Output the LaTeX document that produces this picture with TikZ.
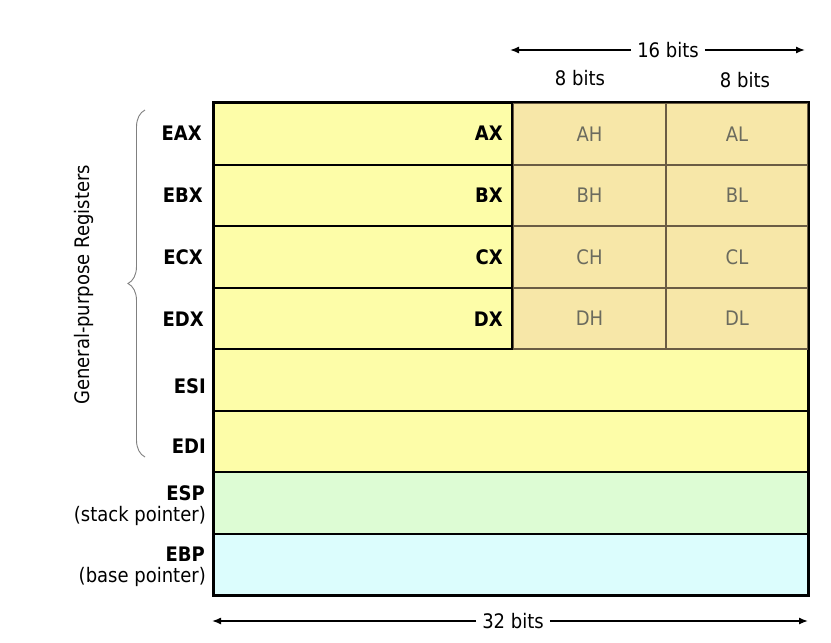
\documentclass[tikz,border=0pt]{standalone}
\usepackage{fontspec}
\setmainfont[FakeStretch=0.9]{DejaVu Sans}
\usetikzlibrary{decorations.pathreplacing,arrows.meta}
\definecolor{regyellow}{HTML}{FDFDA8}
\definecolor{regtan}{HTML}{F7E7A8}
\definecolor{reggreen}{HTML}{DDFCD4}
\definecolor{regcyan}{HTML}{DCFDFD}
\definecolor{tanline}{HTML}{6A5C44}
\definecolor{halftext}{HTML}{6B6B5E}
\begin{document}
\begin{tikzpicture}[x=1pt,y=-1pt,
  every node/.style={font=\fontsize{20}{23}\selectfont, inner sep=0pt},
  regrow/.style={draw=black, line width=2pt, anchor=north west, minimum width=594pt, minimum height=61.5pt},
  halfcell/.style={draw=tanline, line width=2pt, fill=regtan, anchor=north west, minimum height=61.5pt, text=halftext},
  reglabel/.style={anchor=east, font=\fontsize{20}{23}\selectfont\bfseries},
  sublabel/.style={anchor=east},
  dimarrow/.style={line width=1.4pt, -{Latex[length=9pt,width=7pt]}},
  note/.style={fill=white, inner sep=6pt}
]
\useasboundingbox (0,0) rectangle (831,643);
\fill[white] (0,0) rectangle (831,643);
% rows
\node[regrow, fill=regyellow] (rax) at (213,102) {};
\node[regrow, fill=regyellow] (rbx) at (213,163.5) {};
\node[regrow, fill=regyellow] (rcx) at (213,225) {};
\node[regrow, fill=regyellow] (rdx) at (213,286.5) {};
\node[regrow, fill=regyellow] (rsi) at (213,348) {};
\node[regrow, fill=regyellow] (rdi) at (213,409.5) {};
\node[regrow, fill=reggreen] (rsp) at (213,471) {};
\node[regrow, fill=regcyan] (rbp) at (213,532.5) {};
% high / low halves
\node[halfcell, minimum width=153pt] (ah) at (512,102) {AH};
\node[halfcell, minimum width=142pt] (al) at (665,102) {AL};
\node[halfcell, minimum width=153pt] (bh) at (512,163.5) {BH};
\node[halfcell, minimum width=142pt] (bl) at (665,163.5) {BL};
\node[halfcell, minimum width=153pt] (ch) at (512,225) {CH};
\node[halfcell, minimum width=142pt] (cl) at (665,225) {CL};
\node[halfcell, minimum width=153pt] (dh) at (512,286.5) {DH};
\node[halfcell, minimum width=142pt] (dl) at (665,286.5) {DL};
\draw[black, line width=2.4pt] (rax.north west) rectangle (rbp.south east);
\draw[black, line width=2pt] (ah.north west) -- (dh.south west);
% 16-bit labels
\node[reglabel] (ax) at (503,133) {AX};
\node[reglabel] (bx) at (503,195) {BX};
\node[reglabel] (cx) at (503,257) {CX};
\node[reglabel] (dx) at (503,319) {DX};
% 32-bit labels
\node[reglabel] (eax) at (202,133) {EAX};
\node[reglabel] (ebx) at (203,195) {EBX};
\node[reglabel] (ecx) at (203,257) {ECX};
\node[reglabel] (edx) at (204,319) {EDX};
\node[reglabel] (esi) at (206,386) {ESI};
\node[reglabel] (edi) at (206,446) {EDI};
\node[reglabel] (esp) at (205,493) {ESP};
\node[sublabel] (spn) at (206,516) {(stack pointer)};
\node[reglabel] (ebp) at (205,554) {EBP};
\node[sublabel] (bpn) at (206,577) {(base pointer)};
% brace
\coordinate (brb) at (145,457);
\coordinate (brt) at (145,110);
\draw[gray, line width=0.9pt, decorate, decoration={brace, amplitude=17pt}] (brb) -- (brt);
\node[rotate=90] (gpr) at (84,285) {General-purpose Registers};
% bit-width annotations
\node[note] (b16) at (668,50) {16 bits};
\coordinate (b16l) at (510,50);
\coordinate (b16r) at (805,50);
\draw[dimarrow] (b16.west) -- (b16l);
\draw[dimarrow] (b16.east) -- (b16r);
\node (b8a) at (580,78) {8 bits};
\node (b8b) at (745,80) {8 bits};
\node[note] (b32) at (513,621) {32 bits};
\coordinate (b32l) at (212,621);
\coordinate (b32r) at (808,621);
\draw[dimarrow] (b32.west) -- (b32l);
\draw[dimarrow] (b32.east) -- (b32r);
\end{tikzpicture}
\end{document}
